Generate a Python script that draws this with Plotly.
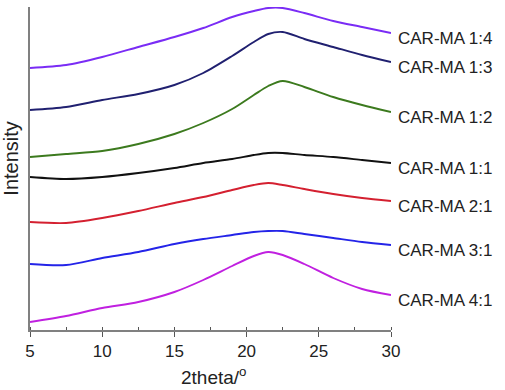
import plotly.graph_objects as go

# 2theta positions (degrees) at which the curves were read
two_theta = [5, 7.5, 10, 12.5, 15, 17, 19, 20.5, 21.5, 22.5, 24, 26, 28, 30]

# stacked (offset) intensities, arbitrary units
car_ma_1_4 = [262, 265, 273, 283, 293, 302, 313, 319, 322, 322, 317, 309, 303, 297]
car_ma_1_3 = [220, 223, 230, 236, 245, 257, 274, 288, 296, 298, 291, 283, 275, 268]
car_ma_1_2 = [173, 176, 179, 186, 196, 207, 221, 235, 244, 249, 243, 233, 225, 218]
car_ma_1_1 = [153, 151, 153, 157, 162, 167, 171, 175, 177, 177, 175, 173, 170, 167]
car_ma_2_1 = [108, 107, 112, 119, 127, 133, 140, 145, 147, 145, 141, 136, 132, 129]
car_ma_3_1 = [66, 65, 72, 78, 86, 91, 95, 98, 99, 99, 96, 92, 88, 85]
car_ma_4_1 = [8, 14, 22, 28, 38, 50, 64, 74, 78, 75, 66, 52, 41, 35]

series_names = ["CAR-MA 1:4", "CAR-MA 1:3", "CAR-MA 1:2", "CAR-MA 1:1",
                "CAR-MA 2:1", "CAR-MA 3:1", "CAR-MA 4:1"]
series_values = [car_ma_1_4, car_ma_1_3, car_ma_1_2, car_ma_1_1,
                 car_ma_2_1, car_ma_3_1, car_ma_4_1]
series_colors = ["#7a2cf5", "#202070", "#3c7a1e", "#111111",
                 "#d42030", "#2424e8", "#c020e0"]

x_ticks = [5, 10, 15, 20, 25, 30]

FONT = "Arial, Liberation Sans, sans-serif"

fig = go.Figure()
for name, vals, col in zip(series_names, series_values, series_colors):
    fig.add_trace(go.Scatter(x=two_theta, y=vals, mode="lines", name=name,
                             line=dict(color=col, width=1.9, shape="spline", smoothing=0.8),
                             showlegend=False))
    fig.add_annotation(x=two_theta[-1], y=vals[-1], text=name, showarrow=False,
                       xanchor="left", yanchor="middle", xshift=5, yshift=-5,
                       font=dict(family=FONT, size=17, color="#222222"))

fig.add_annotation(xref="paper", yref="paper", x=0.51, y=-0.142, text="2theta/<sup>o</sup>",
                   showarrow=False, xanchor="center", yanchor="middle",
                   font=dict(family=FONT, size=19, color="#222222"))
fig.add_annotation(xref="paper", yref="paper", x=-0.053, y=0.53, text="Intensity",
                   showarrow=False, textangle=-90, xanchor="center", yanchor="middle",
                   font=dict(family=FONT, size=20, color="#222222"))

fig.update_layout(
    width=505, height=390,
    margin=dict(l=30, r=114, t=7, b=60),
    paper_bgcolor="white", plot_bgcolor="white",
    font=dict(family=FONT, color="#222222"),
)
fig.update_xaxes(range=[5, 30], tickvals=x_ticks, ticks="outside", ticklen=5,
                 tickcolor="#555555", showline=True, linecolor="#808080", linewidth=1.5,
                 showgrid=False, zeroline=False,
                 tickfont=dict(family=FONT, size=17, color="#222222"),
                 minor=dict(dtick=2.5, ticks="inside", ticklen=3, tickcolor="#555555", showgrid=False))
fig.update_yaxes(range=[0, 323], showline=True, linecolor="#808080", linewidth=1.5,
                 showticklabels=False, ticks="", showgrid=False, zeroline=False)

fig.write_html("out.html")
